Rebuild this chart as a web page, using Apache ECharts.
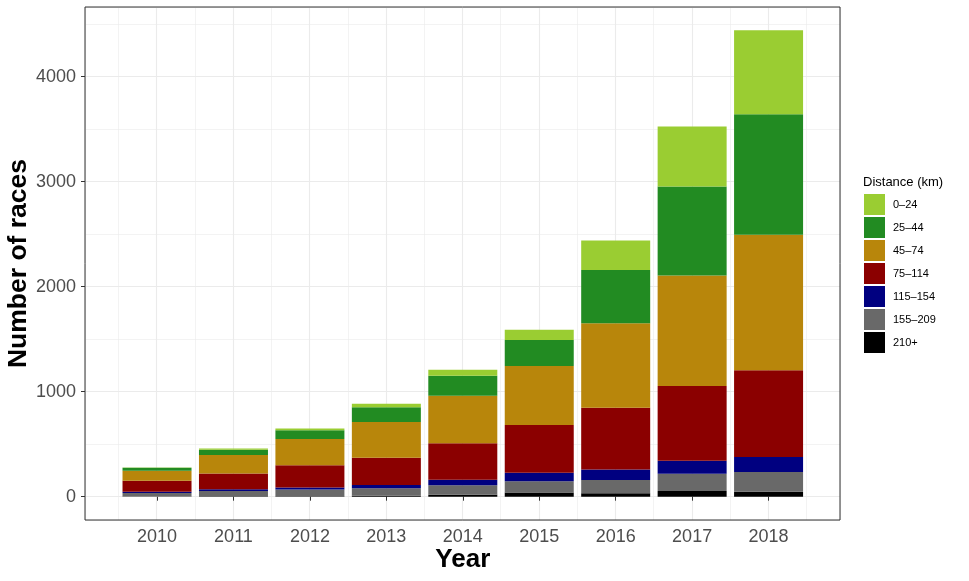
<!DOCTYPE html>
<html>
<head>
<meta charset="utf-8">
<script src="https://cdn.jsdelivr.net/npm/echarts@6/dist/echarts.min.js"></script>
<style>
  html, body { margin: 0; padding: 0; background: #fff; }
  #chart { width: 969px; height: 581px; }
</style>
</head>
<body>
<div id="chart"></div>
<script>
const years = ['2010', '2011', '2012', '2013', '2014', '2015', '2016', '2017', '2018'];
const distances = ['0–24', '25–44', '45–74', '75–114', '115–154', '155–209', '210+'];
const colors = ['#9ACD32', '#228B22', '#B8860B', '#8B0000', '#000080', '#696969', '#000000'];

// races per distance band, one value per year
const d0_24 = [4, 10, 16, 35, 57, 98, 279, 571, 800];
const d25_44 = [27, 51, 83, 139, 190, 248, 508, 848, 1146];
const d45_74 = [95, 177, 250, 340, 454, 562, 806, 1053, 1292];
const d75_114 = [105, 150, 213, 260, 346, 454, 588, 711, 825];
const d115_154 = [12, 16, 19, 32, 54, 83, 98, 124, 143];
const d155_209 = [33, 50, 63, 70, 89, 105, 128, 165, 188];
const d210 = [3, 4, 5, 10, 19, 41, 32, 54, 48];

const bands = [d0_24, d25_44, d45_74, d75_114, d115_154, d155_209, d210];

const font = 'Liberation Sans, Arial, sans-serif';
const gridColor = '#EBEBEB';
const yMin = -222, yMax = 4664;

const chartDom = document.getElementById('chart');
const myChart = echarts.init(chartDom, null, { renderer: 'canvas' });

// ggplot stacks the first level on top, so add series bottom-up
const series = [];
for (let i = distances.length - 1; i >= 0; i--) {
  series.push({
    name: distances[i],
    type: 'bar',
    stack: 'total',
    barWidth: 69,
    xAxisIndex: 2,
    yAxisIndex: 2,
    itemStyle: { color: colors[i] },
    emphasis: { disabled: true },
    data: bands[i]
  });
}

const hidden = {
  axisLine: { show: false },
  axisTick: { show: false },
  axisLabel: { show: false }
};

const option = {
  animation: false,
  backgroundColor: '#ffffff',
  textStyle: { fontFamily: font },
  grid: [
    {
      // the panel: frame, grid lines, y labels
      left: 85,
      top: 7,
      width: 755,
      height: 513,
      show: true,
      borderColor: '#333333',
      borderWidth: 1,
      backgroundColor: 'transparent',
      outerBoundsMode: 'none',
      z: 3
    },
    {
      // the bars, one band per year
      left: 118.8,
      top: 7,
      width: 688,
      height: 513,
      outerBoundsMode: 'none'
    }
  ],
  legend: {
    data: distances,
    orient: 'vertical',
    left: 864,
    top: 194,
    padding: 0,
    itemWidth: 21,
    itemHeight: 21,
    itemGap: 2,
    icon: 'rect',
    selectedMode: false,
    textStyle: { fontSize: 11, color: '#000', fontFamily: font, padding: [0, 0, 0, 3] }
  },
  graphic: [
    {
      type: 'text',
      left: 863,
      top: 176,
      style: { text: 'Distance (km)', font: '13px ' + font, fill: '#000' }
    }
  ],
  xAxis: [
    {
      // major vertical grid lines at the years
      gridIndex: 0,
      type: 'value',
      min: 0.062,
      max: 9.938,
      minInterval: 1,
      maxInterval: 1,
      ...hidden,
      splitLine: { show: true, lineStyle: { color: gridColor, width: 1.1 } }
    },
    {
      // minor vertical grid lines, half way between the years
      gridIndex: 0,
      type: 'value',
      position: 'top',
      min: 0.562,
      max: 10.438,
      minInterval: 1,
      maxInterval: 1,
      ...hidden,
      splitLine: { show: true, lineStyle: { color: gridColor, width: 0.6 } }
    },
    {
      gridIndex: 1,
      type: 'category',
      data: years,
      name: 'Year',
      nameLocation: 'middle',
      nameGap: 27,
      nameMoveOverlap: false,
      nameTextStyle: { fontSize: 26, fontWeight: 'bold', color: '#000', fontFamily: font },
      axisLine: { show: false },
      axisTick: { show: true, alignWithLabel: true, length: 4, lineStyle: { color: '#333333' } },
      axisLabel: { fontSize: 18, color: '#4D4D4D', margin: 8 },
      splitLine: { show: false }
    }
  ],
  yAxis: [
    {
      gridIndex: 0,
      type: 'value',
      min: yMin,
      max: yMax,
      minInterval: 1000,
      maxInterval: 1000,
      name: 'Number of races',
      nameLocation: 'middle',
      nameGap: 53,
      nameMoveOverlap: false,
      nameTextStyle: { fontSize: 26.5, fontWeight: 'bold', color: '#000', fontFamily: font },
      axisLine: { show: false },
      axisTick: { show: true, length: 4, lineStyle: { color: '#333333' } },
      axisLabel: {
        fontSize: 18,
        color: '#4D4D4D',
        margin: 9,
        showMinLabel: false,
        showMaxLabel: false,
        formatter: v => String(v)
      },
      splitLine: { show: true, lineStyle: { color: gridColor, width: 1.1 } }
    },
    {
      // minor horizontal grid lines at 500, 1500, ...
      gridIndex: 0,
      type: 'value',
      position: 'right',
      min: yMin + 500,
      max: yMax + 500,
      minInterval: 1000,
      maxInterval: 1000,
      ...hidden,
      splitLine: { show: true, lineStyle: { color: gridColor, width: 0.6 } }
    },
    {
      gridIndex: 1,
      type: 'value',
      min: yMin,
      max: yMax,
      ...hidden,
      splitLine: { show: false }
    }
  ],
  series: series
};

option && myChart.setOption(option);
</script>
</body>
</html>
